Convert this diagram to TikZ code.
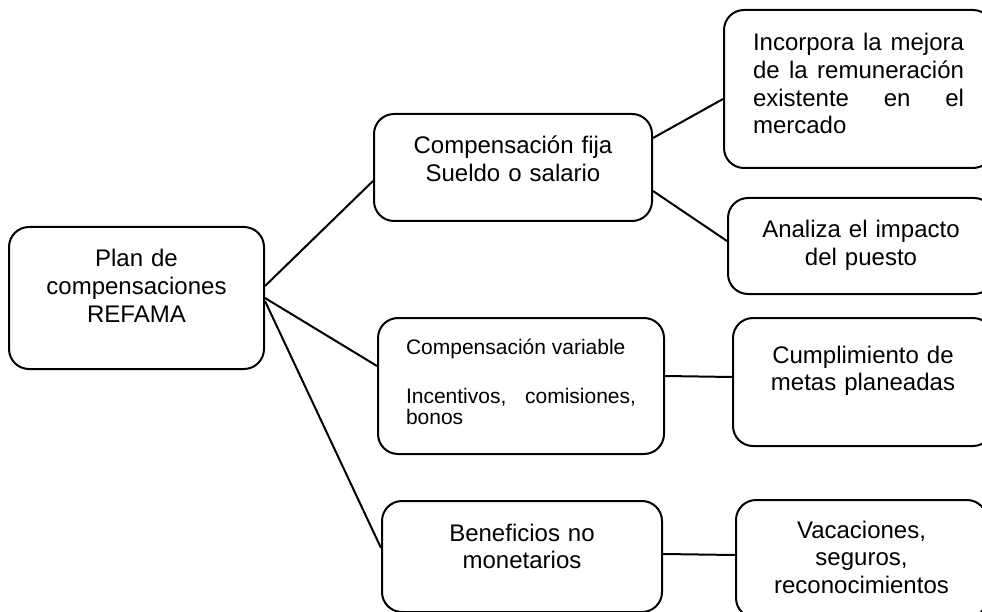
\documentclass[tikz,border=0pt]{standalone}
\usepackage{fontspec}
\setmainfont{Liberation Sans}

\begin{document}
\begin{tikzpicture}[x = 1pt, y = -1pt,
	box/.style = {draw, line width = 2pt, rounded corners = 20pt, anchor = north west, inner ysep = 0pt, inner xsep = 10pt, text height = 40pt, align = center, font = \fontsize{24}{27.6}\selectfont},
	con/.style = {line width = 2pt}]%plan de compensaciones
	\useasboundingbox (0,0) rectangle (982,612);
	\clip (0,0) rectangle (982,612);
	\node[box, text width = 235pt, text depth = 102pt] (PC) at (8,226) {Plan de\\compensaciones\\REFAMA};
	\node[box, text width = 258pt, text depth = 67pt] (CF) at (373,113) {Compensación fija\\Sueldo o salario};
	\node[box, inner xsep = 29pt, text width = 211pt, text height = 41pt, text depth = 117pt, align = justify] (IM) at (723,9) {Incorpora la mejora\linebreak de la remuneración\linebreak existente en el\linebreak mercado};
	\node[box, text width = 246pt, text depth = 56pt] (AI) at (727,197) {Analiza el impacto\\del puesto};
	\node[box, font = \fontsize{21}{21.5}\selectfont, inner xsep = 28pt, text width = 230pt, text height = 36pt, text depth = 100pt, align = justify] (CV) at (377,317) {Compensación variable\\[27.5pt]Incentivos, comisiones,\linebreak bonos};
	\node[box, text width = 240pt, text height = 45pt, text depth = 83pt] (CM) at (732,317) {Cumplimiento de\\metas planeadas};
	\node[box, text width = 260pt, text depth = 71pt] (BN) at (381,500) {Beneficios no\\monetarios};
	\node[box, text width = 231pt, text height = 38pt, text depth = 80pt] (VS) at (735,499) {Vacaciones,\\seguros,\\reconocimientos};
	\draw[con]
	([yshift = 12pt]PC.east) -- ([yshift = -13.5pt]CF.west)
	(PC.east) -- ([yshift = 20pt]CV.west)
	([yshift = -3pt]PC.east) -- ([yshift = 8.5pt]BN.west);
	\draw[con]
	([yshift = 29.5pt]CF.east) -- ([yshift = -10pt]IM.west)
	([yshift = -23.5pt]CF.east) -- ([yshift = 5pt]AI.west);
	\draw[con]
	([yshift = 10pt]CV.east) -- ([yshift = 5pt]CM.west)
	([yshift = 2.5pt]BN.east) -- ([yshift = 4pt]VS.west);
\end{tikzpicture}
\end{document}
